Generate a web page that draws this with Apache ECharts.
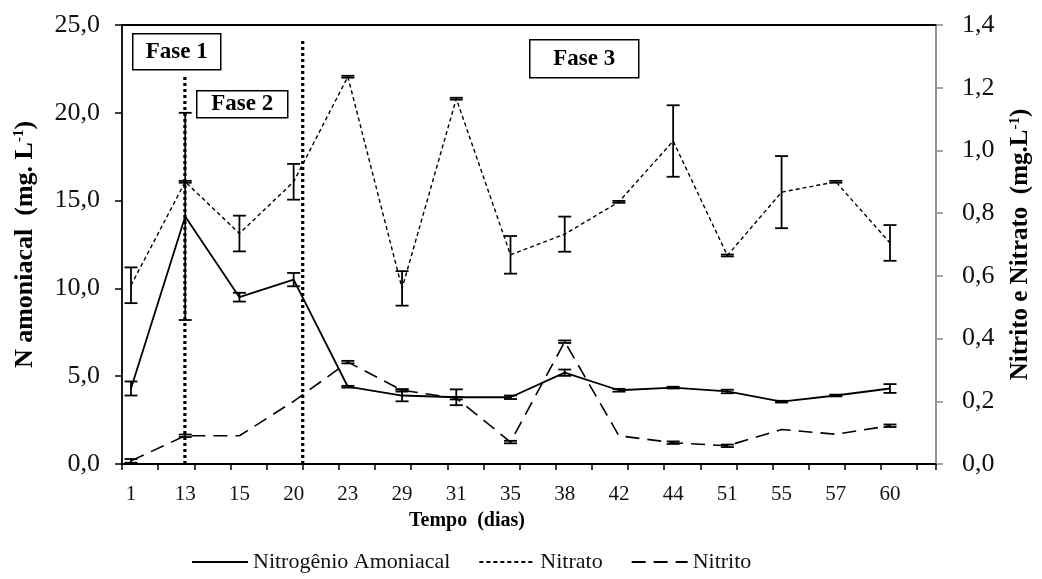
<!DOCTYPE html>
<html>
<head>
<meta charset="utf-8">
<script src="https://cdn.jsdelivr.net/npm/echarts@6/dist/echarts.min.js"></script>
<style>
  html, body { margin: 0; padding: 0; background: #fff; }
  #chart { width: 1042px; height: 579px; }
</style>
</head>
<body>
<div id="chart"></div>
<script>
// Sampling days (x axis categories)
const days = ['1', '13', '15', '20', '23', '29', '31', '35', '38', '42', '44', '51', '55', '57', '60'];

// Ammoniacal nitrogen (left axis, mg/L) and its deviation
const amoniacal    = [4.3, 14.1, 9.5, 10.5, 4.4, 3.9, 3.8, 3.8, 5.2, 4.2, 4.35, 4.13, 3.55, 3.9, 4.3];
const amoniacalErr = [0.4, 5.9, 0.25, 0.38, 0.05, 0.33, 0.45, 0.1, 0.18, 0.08, 0.05, 0.1, 0.05, 0.05, 0.25];

// Nitrate (right axis, mg/L) and its deviation
const nitrato    = [0.57, 0.9, 0.735, 0.9, 1.235, 0.56, 1.165, 0.667, 0.733, 0.836, 1.03, 0.665, 0.867, 0.9, 0.705];
const nitratoErr = [0.057, 0.003, 0.057, 0.057, 0.003, 0.055, 0.003, 0.06, 0.056, 0.003, 0.114, 0.003, 0.115, 0.003, 0.057];

// Nitrite (right axis, mg/L) and its deviation
const nitrito    = [0.01, 0.09, 0.09, 0.2, 0.325, 0.235, 0.21, 0.07, 0.39, 0.09, 0.068, 0.058, 0.11, 0.095, 0.122];
const nitritoErr = [0.006, 0.004, 0, 0, 0.004, 0.004, 0.004, 0.004, 0.004, 0, 0.004, 0.004, 0, 0, 0.004];

// Phase boundaries, on the frame axis (tick units) with their top on the left scale
const phaseLineAt  = [1.74, 5.0];
const phaseLineTop = [22.05, 24.15];

// Phase labels
const phaseLabels = ['Fase 1', 'Fase 2', 'Fase 3'];

const SERIF = '"Liberation Serif", "Times New Roman", serif';

const chart = echarts.init(document.getElementById('chart'), null, { renderer: 'canvas' });

function commaFmt(decimals) {
  return v => v.toFixed(decimals).replace('.', ',');
}

// Vertical error bars with caps, drawn through the axes of the given series
function errorBars(values, errs, yIdx) {
  return {
    type: 'custom',
    xAxisIndex: 0,
    yAxisIndex: yIdx,
    silent: true,
    z: 5,
    data: values.map((v, i) => [i, v - errs[i], v + errs[i], errs[i]]),
    encode: { x: 0, y: [1, 2] },
    renderItem(params, api) {
      if (api.value(3) <= 0) return null;
      const x = api.value(0);
      const lo = api.coord([x, api.value(1)]);
      const hi = api.coord([x, api.value(2)]);
      const hw = 6.5;
      const st = { stroke: '#000', lineWidth: 1.8 };
      return {
        type: 'group',
        children: [
          { type: 'line', shape: { x1: lo[0], y1: lo[1], x2: hi[0], y2: hi[1] }, style: st },
          { type: 'line', shape: { x1: hi[0] - hw, y1: hi[1], x2: hi[0] + hw, y2: hi[1] }, style: st },
          { type: 'line', shape: { x1: lo[0] - hw, y1: lo[1], x2: lo[0] + hw, y2: lo[1] }, style: st }
        ]
      };
    }
  };
}

function phaseBox(label, x, y, w, h) {
  return {
    type: 'group',
    left: x, top: y,
    children: [
      { type: 'rect', shape: { x: 0, y: 0, width: w, height: h },
        style: { fill: '#fff', stroke: '#000', lineWidth: 1.5 } },
      { type: 'text', x: w / 2, y: h / 2,
        style: { text: label, fill: '#000', font: 'bold 23px ' + SERIF,
                 textAlign: 'center', textVerticalAlign: 'middle' } }
    ]
  };
}

const option = {
  animation: false,
  backgroundColor: '#fff',
  grid: [
    // data grid: first and last sample sit inside the frame
    { left: 131, right: 152, top: 25, bottom: 115 },
    // frame grid: outer box with its own tick spacing
    { left: 122, right: 106, top: 25, bottom: 115 }
  ],
  xAxis: [
    {
      gridIndex: 0, type: 'category', data: days, boundaryGap: false,
      axisLine: { show: false }, axisTick: { show: false },
      axisLabel: { interval: 0, margin: 20, color: '#111', fontSize: 21, fontFamily: SERIF },
      splitLine: { show: false }
    },
    {
      gridIndex: 1, type: 'value', min: 0, max: 22.52, interval: 1,
      axisLine: { show: true, onZero: false, lineStyle: { color: '#000', width: 1.8 } },
      axisTick: { show: true, length: 6, lineStyle: { color: '#000', width: 1.5 } },
      axisLabel: { show: false }, splitLine: { show: false }
    },
    {
      gridIndex: 1, type: 'value', position: 'top', min: 0, max: 22.52,
      axisLine: { show: true, onZero: false, lineStyle: { color: '#000', width: 1.8 } },
      axisTick: { show: false }, axisLabel: { show: false }, splitLine: { show: false }
    }
  ],
  yAxis: [
    {
      gridIndex: 0, type: 'value', position: 'left', offset: 9,
      min: 0, max: 25, interval: 5,
      name: 'N amoniacal  (mg. L{sup|-1})',
      nameLocation: 'middle', nameRotate: 90, nameGap: 84,
      nameTextStyle: {
        fontFamily: SERIF, fontWeight: 'bold', fontSize: 26, color: '#000',
        rich: { sup: { fontFamily: SERIF, fontWeight: 'bold', fontSize: 15, color: '#000', verticalAlign: 'top' } }
      },
      axisLine: { show: true, onZero: false, lineStyle: { color: '#000', width: 1.8 } },
      axisTick: { show: true, length: 7, lineStyle: { color: '#000', width: 1.5 } },
      axisLabel: { margin: 22, color: '#111', fontSize: 26, fontFamily: SERIF, formatter: commaFmt(1) },
      splitLine: { show: false }
    },
    {
      gridIndex: 0, type: 'value', position: 'right', offset: 46,
      min: 0, max: 1.4, interval: 0.2,
      name: 'Nitrito e Nitrato  (mg.L{sup|-1})',
      nameLocation: 'middle', nameRotate: 90, nameGap: 72,
      nameTextStyle: {
        fontFamily: SERIF, fontWeight: 'bold', fontSize: 25, color: '#000',
        rich: { sup: { fontFamily: SERIF, fontWeight: 'bold', fontSize: 15, color: '#000', verticalAlign: 'top' } }
      },
      axisLine: { show: true, onZero: false, lineStyle: { color: '#888', width: 1.8 } },
      axisTick: { show: true, length: 7, lineStyle: { color: '#888', width: 1.5 } },
      axisLabel: { margin: 26, color: '#111', fontSize: 26, fontFamily: SERIF, formatter: commaFmt(1) },
      splitLine: { show: false }
    },
    {
      gridIndex: 1, type: 'value', min: 0, max: 25, show: false
    }
  ],
  legend: {
    data: ['Nitrogênio Amoniacal', 'Nitrato', 'Nitrito'],
    left: 186, top: 546,
    itemWidth: 56, itemHeight: 14, itemGap: 28,
    itemStyle: { color: 'rgba(0,0,0,0)', borderColor: 'rgba(0,0,0,0)', borderWidth: 0 },
    textStyle: { fontFamily: SERIF, fontSize: 22, color: '#111' }
  },
  graphic: [
    phaseBox(phaseLabels[0], 132, 33, 88, 36),
    phaseBox(phaseLabels[1], 196, 90, 91, 27),
    phaseBox(phaseLabels[2], 529, 39, 109, 38),
    {
      type: 'text', x: 467, y: 521,
      style: { text: 'Tempo  (dias)', fill: '#000', font: 'bold 20px ' + SERIF,
               textAlign: 'center', textVerticalAlign: 'middle' }
    }
  ],
  series: [
    {
      name: 'Nitrogênio Amoniacal', type: 'line', xAxisIndex: 0, yAxisIndex: 0,
      data: amoniacal, symbol: 'none', z: 4,
      lineStyle: { color: '#000', width: 1.8, type: 'solid' },
      itemStyle: { color: '#000' }
    },
    {
      name: 'Nitrato', type: 'line', xAxisIndex: 0, yAxisIndex: 1,
      data: nitrato, symbol: 'none', z: 4,
      lineStyle: { color: '#000', width: 1.4, type: [4, 3] },
      itemStyle: { color: '#000' }
    },
    {
      name: 'Nitrito', type: 'line', xAxisIndex: 0, yAxisIndex: 1,
      data: nitrito, symbol: 'none', z: 4,
      lineStyle: { color: '#000', width: 1.6, type: [14, 8] },
      itemStyle: { color: '#000' }
    },
    errorBars(amoniacal, amoniacalErr, 0),
    errorBars(nitrato, nitratoErr, 1),
    errorBars(nitrito, nitritoErr, 1),
    {
      // dotted phase boundaries
      type: 'custom', xAxisIndex: 1, yAxisIndex: 2, silent: true, z: 3,
      data: phaseLineAt.map((x, k) => [x, phaseLineTop[k]]),
      encode: { x: 0, y: 1 },
      renderItem(params, api) {
        const x = api.value(0);
        const b = api.coord([x, 0]);
        const t = api.coord([x, api.value(1)]);
        return {
          type: 'line',
          shape: { x1: b[0], y1: b[1], x2: t[0], y2: t[1] },
          style: { stroke: '#000', lineWidth: 3.2, lineDash: [3, 3] }
        };
      }
    }
  ]
};

chart.setOption(option);
</script>
</body>
</html>
